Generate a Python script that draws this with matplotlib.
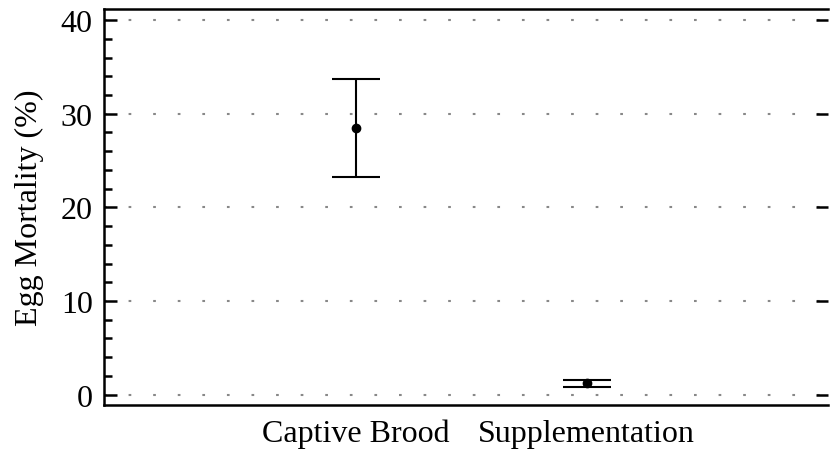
import numpy as np
import matplotlib.pyplot as plt

plt.rcParams['font.family'] = ['Liberation Serif', 'DejaVu Serif']

# Data
groups = ["Captive Brood", "Supplementation"]
mortality = [28.46, 1.21]
upper = [33.7, 1.6]
lower = [23.2, 0.82]

x = np.arange(len(groups))
mort = np.array(mortality)
yerr = [mort - np.array(lower), np.array(upper) - mort]

fig, ax = plt.subplots(figsize=(8.3, 4.52), dpi=100)
fig.subplots_adjust(left=0.125, right=0.998, top=0.977, bottom=0.102)

ax.errorbar(x, mort, yerr=yerr, fmt='o', color='black', markersize=6,
            elinewidth=1.5, capsize=17, capthick=1.5)

ax.set_xlim(-1.09, 2.045)
ax.set_ylim(-1.1, 41.15)
ax.set_xticks(x)
ax.set_xticklabels(groups, fontsize=23)
ax.tick_params(axis='x', length=0, pad=10)

ax.set_yticks([0, 10, 20, 30, 40])
ax.set_yticks(np.arange(0, 41, 2), minor=True)
ax.tick_params(axis='y', which='major', direction='in', length=9, width=1.8,
               labelsize=23, right=True, pad=8)
ax.tick_params(axis='y', which='minor', direction='in', length=6, width=1.8)
ax.set_ylabel("Egg Mortality (%)", fontsize=23, labelpad=12)

# minor ticks only on the left
ax.yaxis.set_tick_params(which='minor', right=False)

ax.grid(axis='y', color='#888888', linewidth=1.5, linestyle=(0, (1.3, 10.5)))
ax.set_axisbelow(True)

ax.spines['right'].set_visible(False)
for side in ['left', 'top', 'bottom']:
    ax.spines[side].set_linewidth(1.8)

plt.savefig("out.png", dpi=100)
